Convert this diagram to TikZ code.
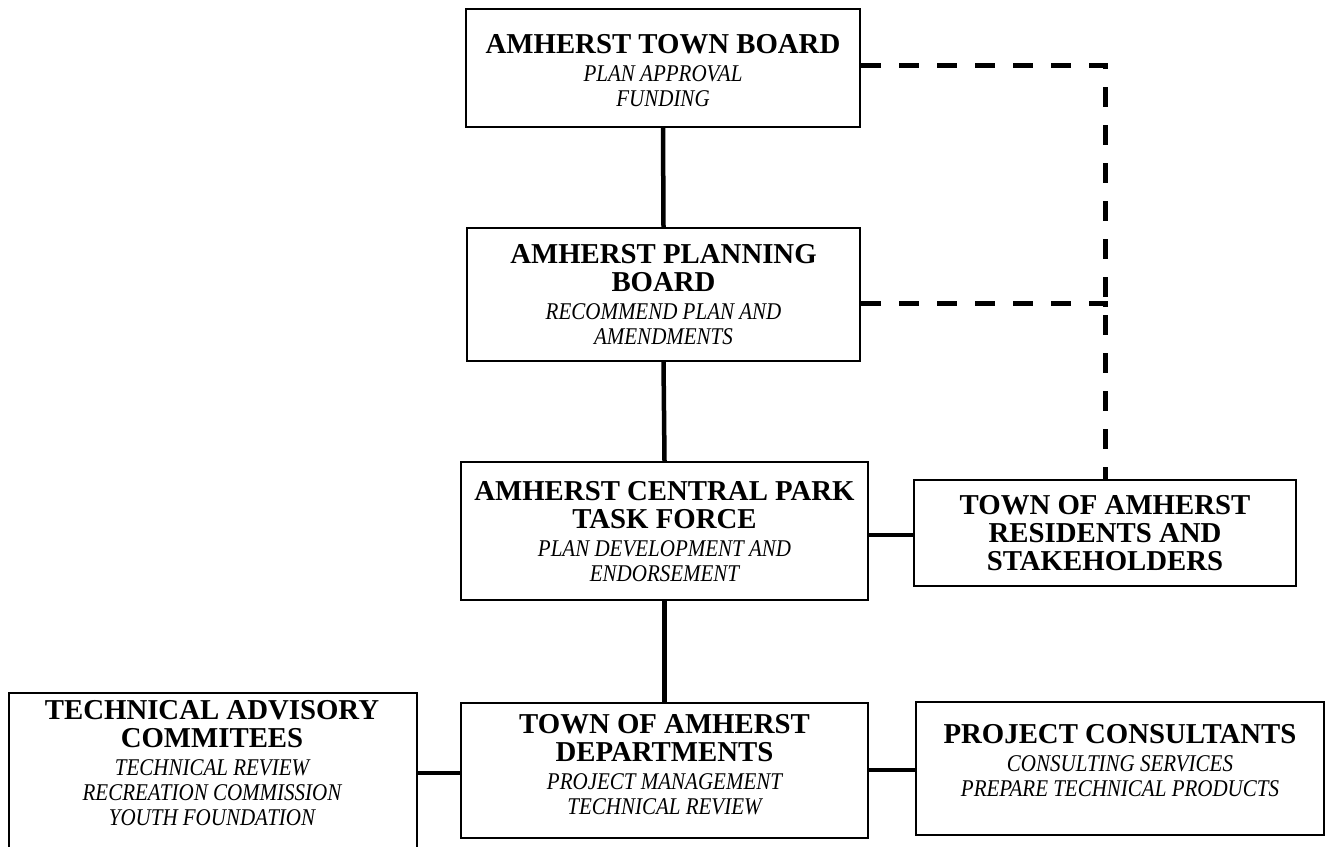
\documentclass[tikz,border=0pt]{standalone}
\usepackage{fontspec}
\setmainfont{Liberation Serif}
\newfontfamily\subfam{Liberation Serif}[FakeStretch=0.875]
\usetikzlibrary{calc}
\newcommand\boxttl{\fontsize{28.8}{28}\selectfont\bfseries}
\newcommand\boxsub{\subfam\itshape\fontsize{24}{25}\selectfont}
\tikzset{
  box/.style={draw=black, line width=2pt, rectangle, inner sep=0pt, fill=white},
  txt/.style={align=center, inner sep=0pt, font=\fontsize{24}{25}\selectfont},
  link/.style={line width=4.5pt},
  dlink/.style={line width=5pt, dash pattern=on 20pt off 18pt},
}
\begin{document}
\begin{tikzpicture}[x=1pt,y=1pt]
\useasboundingbox (0,0) rectangle (1325,-846);
% boxes
\node[box, minimum width=394, minimum height=118] (tb) at (663,-68) {};
\node[box, minimum width=393, minimum height=133] (pb) at (663.5,-294.5) {};
\node[box, minimum width=407, minimum height=138] (tf) at (664.5,-531) {};
\node[box, minimum width=382, minimum height=106] (res) at (1105,-533) {};
\node[box, minimum width=407, minimum height=135] (dep) at (664.5,-770.5) {};
\node[box, minimum width=408, minimum height=170, anchor=north west] (tac) at (8,-692) {};
\node[box, minimum width=408, minimum height=133] (pc) at (1120,-768.5) {};
% connectors
\draw[link] (tb.south) -- (pb.north);
\draw[link] (pb.south) -- (tf.north);
\draw[link] (tf.south) -- (dep.north);
\draw[link] (tf.east |- 0,-535) -- (res.west |- 0,-535);
\draw[link] (tac.east |- 0,-773) -- (dep.west |- 0,-773);
\draw[link] (dep.east |- 0,-770) -- (pc.west |- 0,-770);
\coordinate (c1) at (res.north |- 0,-65);
\coordinate (c2) at (res.north |- 0,-303);
\draw[dlink] (tb.east |- c1) -- (c1) -- (res.north);
\draw[dlink] (pb.east |- c2) -- (c2) -- ++(0,-12);
% texts
\node[txt] (tbt) at (663,-71) {{\boxttl AMHERST TOWN BOARD}\\[3pt]{\boxsub PLAN APPROVAL}\\{\boxsub FUNDING}};
\node[txt] (pbt) at (663.5,-295) {{\boxttl AMHERST PLANNING}\\[3pt]{\boxttl BOARD}\\[3pt]{\boxsub RECOMMEND PLAN AND}\\{\boxsub AMENDMENTS}};
\node[txt] (tft) at (664.5,-531.5) {{\boxttl AMHERST CENTRAL PARK}\\[3pt]{\boxttl TASK FORCE}\\[3pt]{\boxsub PLAN DEVELOPMENT AND}\\{\boxsub ENDORSEMENT}};
\node[txt] (rest) at (1105,-533) {{\boxttl TOWN OF AMHERST}\\[3pt]{\boxttl RESIDENTS AND}\\[3pt]{\boxttl STAKEHOLDERS}};
\node[txt] (dept) at (664.5,-765) {{\boxttl TOWN OF AMHERST}\\[3pt]{\boxttl DEPARTMENTS}\\[3pt]{\boxsub PROJECT MANAGEMENT}\\{\boxsub TECHNICAL REVIEW}};
\node[txt] (tact) at (212,-763) {{\boxttl TECHNICAL ADVISORY}\\[3pt]{\boxttl COMMITEES}\\[3pt]{\boxsub TECHNICAL REVIEW}\\{\boxsub RECREATION COMMISSION}\\{\boxsub YOUTH FOUNDATION}};
\node[txt] (pct) at (1120,-761) {{\boxttl PROJECT CONSULTANTS}\\[3pt]{\boxsub CONSULTING SERVICES}\\{\boxsub PREPARE TECHNICAL PRODUCTS}};
\end{tikzpicture}
\end{document}
